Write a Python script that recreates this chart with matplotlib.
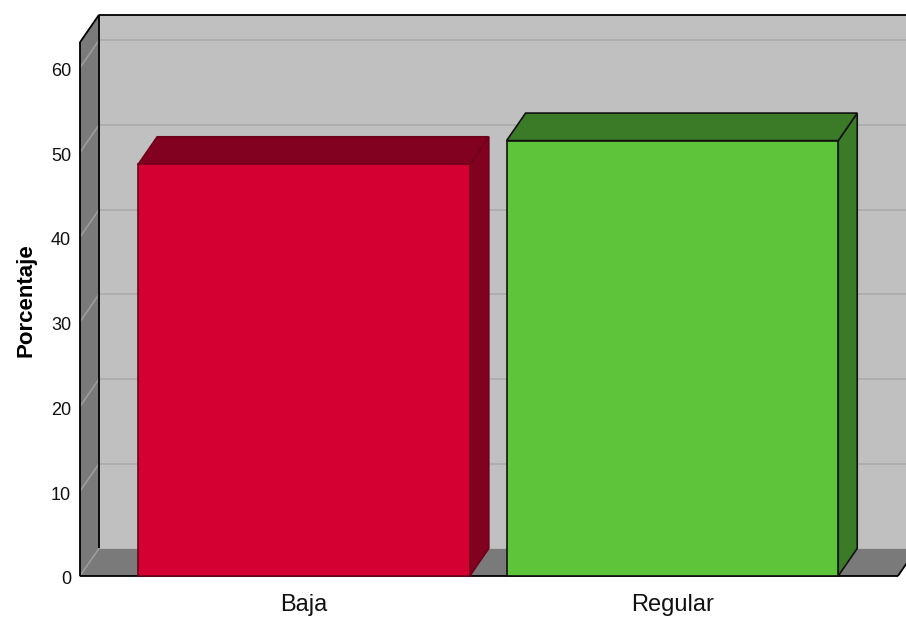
import matplotlib
matplotlib.use("Agg")
import matplotlib.pyplot as plt
from matplotlib.patches import Polygon

# Chart data
categories = ["Baja", "Regular"]
percentages = [48.6, 51.4]
y_ticks = [0, 10, 20, 30, 40, 50, 60]

front_colors = ["#D50032", "#5EC43A"]
shade_colors = ["#820020", "#3B7A27"]
edge_colors = ["#6E001A", "#111111"]

fig = plt.figure(figsize=(9.06, 6.18), dpi=100)
ax = fig.add_axes([0, 0, 1, 1])
ax.set_xlim(-0.825, 1.634)
ax.set_ylim(-4.96, 68.0)
ax.axis("off")

# 3D box geometry (depth offsets in data units)
dx, dy = 0.0516, 3.25
x0, x1 = -0.608, 1.612
top = 63.0
bar_w = 0.9

wall_dark = "#7A7A7A"
back_col = "#C0C0C0"

# back wall
ax.add_patch(Polygon([(x0 + dx, dy), (x1 + dx, dy), (x1 + dx, top + dy), (x0 + dx, top + dy)],
                     closed=True, facecolor=back_col, edgecolor="none", zorder=1))
# left wall
ax.add_patch(Polygon([(x0, 0), (x0 + dx, dy), (x0 + dx, top + dy), (x0, top)],
                     closed=True, facecolor=wall_dark, edgecolor="none", zorder=1))
# floor
ax.add_patch(Polygon([(x0, 0), (x1, 0), (x1 + dx, dy), (x0 + dx, dy)],
                     closed=True, facecolor=wall_dark, edgecolor="none", zorder=1))

# gridlines on back wall and left wall
for v in y_ticks:
    if v > 0:
        ax.plot([x0 + dx, x1 + dx], [v + dy, v + dy], color="#AEAEAE", lw=1.4, zorder=2,
                solid_capstyle="butt")
    ax.plot([x0, x0 + dx], [v, v + dy], color="#9C9C9C", lw=1.2, zorder=2)

# box edges
edge_kw = dict(color="black", lw=1.3, zorder=3, solid_capstyle="butt")
ax.plot([x0, x0], [0, top], **edge_kw)
ax.plot([x0, x0 + dx], [top, top + dy], **edge_kw)
ax.plot([x0 + dx, x0 + dx], [dy, top + dy], **edge_kw)
ax.plot([x0 + dx, x1 + dx + 0.1], [top + dy, top + dy], **edge_kw)
ax.plot([x0, x1], [0, 0], **edge_kw)
ax.plot([x1, x1 + dx], [0, dy], **edge_kw)

# bars
for i, (cat, val) in enumerate(zip(categories, percentages)):
    left, right = i - bar_w / 2, i + bar_w / 2
    ec = edge_colors[i]
    lw = 1.2
    ax.add_patch(Polygon([(right, 0), (right + dx, dy), (right + dx, val + dy), (right, val)],
                         closed=True, facecolor=shade_colors[i], edgecolor=ec, lw=lw, zorder=4))
    ax.add_patch(Polygon([(left, val), (right, val), (right + dx, val + dy), (left + dx, val + dy)],
                         closed=True, facecolor=shade_colors[i], edgecolor=ec, lw=lw, zorder=4))
    ax.add_patch(Polygon([(left, 0), (right, 0), (right, val), (left, val)],
                         closed=True, facecolor=front_colors[i], edgecolor=ec, lw=lw, zorder=5))

font = ["Liberation Sans", "DejaVu Sans"]

# y tick labels
for v in y_ticks:
    ax.text(-0.632, v - 0.45, str(v), ha="right", va="center", fontsize=13,
            family=font, color="#111111", zorder=6)

# category labels
for i, cat in enumerate(categories):
    ax.text(i, -4.13, cat, ha="center", va="baseline", fontsize=17,
            family=font, color="#111111", zorder=6)

fig.text(26 / 906, 1 - 300 / 618, "Porcentaje", rotation=90, ha="center", va="center",
         fontsize=16, fontweight="bold", family=font, color="black")

fig.savefig("out.png", dpi=100)
